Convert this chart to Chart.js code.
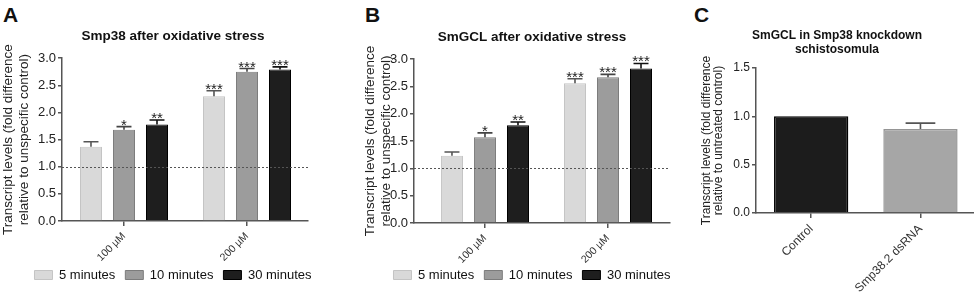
<!DOCTYPE html>
<html><head><meta charset="utf-8">
<script src="https://cdn.jsdelivr.net/npm/chart.js@4.4.1/dist/chart.umd.min.js"></script>
<style>
html,body{margin:0;padding:0;background:#fff;width:978px;height:296px;overflow:hidden;position:relative;font-family:Arial,'Liberation Sans',sans-serif}
canvas{position:absolute;top:0}
.pl{position:absolute;top:4px;font-weight:bold;font-size:21px;color:#111;line-height:1}
</style></head><body>
<div class="pl" style="left:3px">A</div>
<div class="pl" style="left:365px">B</div>
<div class="pl" style="left:694px">C</div>
<canvas id="cA" width="346" height="296" style="left:0"></canvas>
<canvas id="cB" width="340" height="296" style="left:362px"></canvas>
<canvas id="cC" width="274" height="296" style="left:700px"></canvas>
<script>
// ---------- data ----------
const doseLabels = ['100 µM', '200 µM'];
const timeLabels = ['5 minutes', '10 minutes', '30 minutes'];

const smp38Min5  = [1.37, 2.30];
const smp38Min10 = [1.68, 2.75];
const smp38Min30 = [1.78, 2.79];
const smp38Sem5  = [0.09, 0.10];
const smp38Sem10 = [0.06, 0.06];
const smp38Sem30 = [0.08, 0.05];
const smp38Stars5  = ['', '***'];
const smp38Stars10 = ['*', '***'];
const smp38Stars30 = ['**', '***'];

const gclMin5  = [1.23, 2.56];
const gclMin10 = [1.57, 2.67];
const gclMin30 = [1.79, 2.83];
const gclSem5  = [0.07, 0.08];
const gclSem10 = [0.08, 0.05];
const gclSem30 = [0.06, 0.09];
const gclStars5  = ['', '***'];
const gclStars10 = ['*', '***'];
const gclStars30 = ['**', '***'];

const kdLabels = ['Control', 'Smp38.2 dsRNA'];
const kdValues = [1.00, 0.87];
const kdSem    = [0.00, 0.06];

const yTicksAB = [0, 0.5, 1, 1.5, 2, 2.5, 3];
const yTicksC  = [0, 0.5, 1, 1.5];

// ---------- helpers ----------
const FONT = "Arial, 'Liberation Sans', sans-serif";
const toPts = arr => arr.map((v, i) => ({x: i, y: v}));

const errPlugin = {
  id: 'errbars',
  afterDatasetsDraw(chart, args, opts) {
    const ctx = chart.ctx, ys = chart.scales.y, ca = chart.chartArea;
    if (opts.refLine != null) {
      const py = Math.round(ys.getPixelForValue(opts.refLine)) + 0.5;
      ctx.save();
      ctx.setLineDash([2, 2]);
      ctx.strokeStyle = '#555';
      ctx.lineWidth = 1;
      ctx.beginPath(); ctx.moveTo(ca.left, py); ctx.lineTo(ca.right, py); ctx.stroke();
      ctx.restore();
    }
    chart.data.datasets.forEach((ds, di) => {
      const meta = chart.getDatasetMeta(di);
      meta.data.forEach((bar, i) => {
        const val = ds.data[i].y;
        const err = ds.errors ? ds.errors[i] : 0;
        const top = ys.getPixelForValue(val + err);
        const col = Array.isArray(ds.errColor) ? ds.errColor[i] : ds.errColor;
        if (err > 0) {
          const hw = bar.width * opts.capRatio / 2;
          ctx.save();
          ctx.strokeStyle = col; ctx.lineWidth = 1.6;
          ctx.beginPath();
          ctx.moveTo(bar.x, bar.y); ctx.lineTo(bar.x, top);
          ctx.moveTo(bar.x - hw, top); ctx.lineTo(bar.x + hw, top);
          ctx.stroke();
          ctx.restore();
        }
        const star = ds.stars ? ds.stars[i] : '';
        if (star) {
          ctx.save();
          ctx.fillStyle = '#222';
          ctx.font = '15px ' + FONT;
          ctx.textAlign = 'center';
          ctx.textBaseline = 'alphabetic';
          ctx.fillText(star, bar.x, top + 3);
          ctx.restore();
        }
      });
    });
  }
};

function axisX(labels, min, max, fontSize, height, pad) {
  return {
    type: 'linear', min, max, offset: false,
    afterBuildTicks: s => { s.ticks = labels.map((_, i) => ({value: i})); },
    afterFit: s => { s.height = height; s._computeLabelArea = () => null; },
    grid: {display: true, offset: false, drawOnChartArea: false, drawTicks: true, tickLength: 5, color: '#555', lineWidth: 1.5},
    border: {display: true, color: '#555', width: 1.5},
    ticks: {
      autoSkip: false, minRotation: 45, maxRotation: 45, padding: pad,
      color: '#333', font: {family: FONT, size: fontSize},
      callback: v => labels[v]
    }
  };
}
function axisY(ticksArr, width, fontSize, titleLines, titleSize, titleLH) {
  return {
    min: ticksArr[0], max: ticksArr[ticksArr.length - 1],
    afterBuildTicks: s => { s.ticks = ticksArr.map(v => ({value: v})); },
    afterFit: s => { s.width = width; },
    grid: {display: true, drawOnChartArea: false, drawTicks: true, tickLength: 4, color: '#555', lineWidth: 1.5},
    border: {display: true, color: '#555', width: 1.5},
    ticks: {padding: 2, color: '#222', font: {family: FONT, size: fontSize}, callback: v => v.toFixed(1)},
    title: {display: true, text: titleLines, color: '#222', padding: {top: 0.5, bottom: 0},
            font: {family: FONT, size: titleSize, lineHeight: titleLH}}
  };
}
function spacer(width) {
  return {position: 'right', display: true, grid: {display: false, drawTicks: false}, border: {display: false},
          ticks: {display: false}, afterFit: s => { s.width = width; }};
}

const timeStyles = [
  {backgroundColor: '#d9d9d9', borderColor: '#c4c4c4', errColor: '#555'},
  {backgroundColor: '#9c9c9c', borderColor: '#7c7c7c', errColor: '#444'},
  {backgroundColor: '#1e1e1e', borderColor: '#000000', errColor: '#111'}
];

function timePanel(id, title, vals, sems, stars, yWidth, xMin, xMax, xHeight, spacerW, titlePad) {
  return new Chart(document.getElementById(id), {
    type: 'bar',
    data: {
      datasets: vals.map((v, k) => ({
        label: timeLabels[k], data: toPts(v), errors: sems[k], stars: stars[k],
        backgroundColor: timeStyles[k].backgroundColor, borderColor: timeStyles[k].borderColor,
        errColor: timeStyles[k].errColor, borderWidth: 1,
        categoryPercentage: 0.805, barPercentage: 0.667
      }))
    },
    options: {
      responsive: false, animation: false, devicePixelRatio: 1,
      layout: {padding: {top: 0, bottom: 4.5, left: 0, right: 0}},
      scales: {
        x: axisX(doseLabels, xMin, xMax, 10.5, xHeight, 4),
        y: axisY(yTicksAB, yWidth, 13, ['Transcript levels (fold difference', 'relative to unspecific control)'], 13.5, 1.19),
        yR: spacer(spacerW)
      },
      plugins: {
        title: {display: true, text: title, color: '#111', padding: titlePad,
                font: {family: FONT, size: 13.5, weight: 'bold', lineHeight: 1.2}},
        legend: {display: true, position: 'bottom',
                 labels: {boxWidth: 18, boxHeight: 9, padding: 10, color: '#111', font: {family: FONT, size: 13}}},
        tooltip: {enabled: false},
        errbars: {refLine: 1.0, capRatio: 0.68}
      }
    },
    plugins: [errPlugin]
  });
}

timePanel('cA', 'Smp38 after oxidative stress',
  [smp38Min5, smp38Min10, smp38Min30], [smp38Sem5, smp38Sem10, smp38Sem30],
  [smp38Stars5, smp38Stars10, smp38Stars30], 62, -0.504, 1.496, 37.5, 38, {top: 27.8, bottom: 14.2});

timePanel('cB', 'SmGCL after oxidative stress',
  [gclMin5, gclMin10, gclMin30], [gclSem5, gclSem10, gclSem30],
  [gclStars5, gclStars10, gclStars30], 52, -0.577, 1.504, 35.5, 32, {top: 28.9, bottom: 14.0});

new Chart(document.getElementById('cC'), {
  type: 'bar',
  data: {
    datasets: [{
      label: 'SmGCL', data: toPts(kdValues), errors: kdSem,
      backgroundColor: ['#1c1c1c', '#a6a6a6'], borderColor: ['#000000', '#959595'],
      errColor: ['#000', '#555'], borderWidth: 1.5,
      categoryPercentage: 0.68, barPercentage: 1.0
    }]
  },
  options: {
    responsive: false, animation: false, devicePixelRatio: 1,
    layout: {padding: {top: 0, bottom: 0, left: 0, right: 0}},
    scales: {
      x: axisX(kdLabels, -0.505, 1.49, 12, 83, 4),
      y: axisY(yTicksC, 56, 12, ['Transcript levels (fold difference', 'relative to untreated control)'], 12, 1.0)
    },
    plugins: {
      title: {display: true, text: ['SmGCL in Smp38 knockdown', 'schistosomula'], color: '#111',
              padding: {top: 29.1, bottom: 11.3}, font: {family: FONT, size: 12, weight: 'bold', lineHeight: 1.15}},
      legend: {display: false},
      tooltip: {enabled: false},
      errbars: {refLine: null, capRatio: 0.4}
    }
  },
  plugins: [errPlugin]
});
</script>
</body></html>
